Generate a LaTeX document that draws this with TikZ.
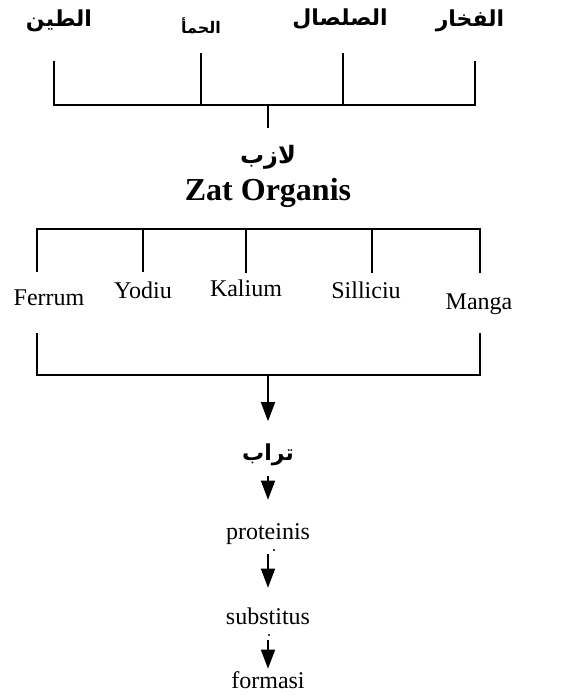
\documentclass[tikz,border=0pt]{standalone}
\usepackage{fontspec}
\setmainfont{Liberation Serif}
\newfontfamily\arabicfont[Script=Arabic]{DejaVu Sans}
\TeXXeTstate=1
\usetikzlibrary{arrows.meta}

\begin{document}
\begin{tikzpicture}[x=1pt,y=-1pt,line width=1.6pt,
    arlab/.style={font=\arabicfont\bfseries\fontsize{22}{24}\selectfont,inner sep=0pt,text height=16pt,text depth=6pt},
    latlab/.style={font=\fontsize{24}{26}\selectfont,inner sep=0pt,text height=16pt,text depth=5pt},
    down/.style={-{Triangle[width=14pt,length=19pt]}}]

    \useasboundingbox (0,0) rectangle (573,696);

    % Arabic words on top
    \node[arlab] (tin) at (59,22) {\beginR الطين\endR};
    \node[arlab,font=\arabicfont\bfseries\fontsize{16}{18}\selectfont] (hamaa) at (201,28) {\beginR الحمأ\endR};
    \node[arlab] (salsal) at (340,20) {\beginR الصلصال\endR};
    \node[arlab] (fakhar) at (470,22) {\beginR الفخار\endR};

    % Top bracket
    \foreach \nm/\x/\y in {tin/54/61, hamaa/201/53, salsal/343/53, fakhar/475/61} {
        \coordinate (\nm-a) at (\x,\y);
        \coordinate (\nm-b) at (\x,105);
    }
    \draw (tin-a) -- (tin-b) -- (fakhar-b) -- (fakhar-a);
    \draw (hamaa-a) -- (hamaa-b);
    \draw (salsal-a) -- (salsal-b);
    \coordinate (stem-top) at (268,105);
    \coordinate (stem-top-end) at (268,128);
    \draw (stem-top) -- (stem-top-end);

    % Middle title
    \node[arlab,font=\arabicfont\bfseries\fontsize{24}{26}\selectfont] (lazib) at (268,158) {\beginR لازب\endR};
    \node[font=\bfseries\fontsize{32}{34}\selectfont,inner sep=0pt] (zat) at (268,193) {Zat Organis};

    % Elements and their bracket
    \foreach \nm/\lab/\x/\lx/\ly/\yb in {
    fe/Ferrum/37/49/300/272,
    yo/Yodiu/143/143/293/272,
    ka/Kalium/246/246/291/273,
    si/Silliciu/372/366/293/273,
    mn/Manga/480/479/304/273} {
        \node[latlab] (\nm) at (\lx,\ly) {\lab};
        \coordinate (\nm-a) at (\x,229);
        \coordinate (\nm-b) at (\x,\yb);
    }
    \draw (fe-b) -- (fe-a) -- (mn-a) -- (mn-b);
    \foreach \nm in {yo,ka,si} {
        \draw (\nm-a) -- (\nm-b);
    }

    % Lower bracket
    \coordinate (fe-c) at (37,333);
    \coordinate (fe-d) at (37,375);
    \coordinate (mn-c) at (480,333);
    \coordinate (mn-d) at (480,375);
    \coordinate (stem-low) at (268,375);
    \draw (fe-c) -- (fe-d) -- (mn-d) -- (mn-c);

    % Chain downwards
    \node[arlab] (turab) at (268,455) {\beginR تراب\endR};
    \node[latlab] (prot) at (268,534) {proteinis};
    \node[latlab] (subs) at (268,619) {substitus};
    \node[latlab] (form) at (268,683) {formasi};

    \draw[down] (stem-low) -- ([yshift=22pt]turab.north);
    \draw[down] ([yshift=-9pt]turab.south) -- ([yshift=23pt]prot.north);
    \draw[down] ([yshift=-9pt]prot.south) -- ([yshift=20pt]subs.north);
    \draw[down] ([yshift=-10pt]subs.south) -- ([yshift=3pt]form.north);

    % stray dots
    \coordinate (dot-a) at (274,550);
    \coordinate (dot-b) at (269,635);
    \fill (dot-a) circle (1.1pt);
    \fill (dot-b) circle (1.1pt);

\end{tikzpicture}
\end{document}
